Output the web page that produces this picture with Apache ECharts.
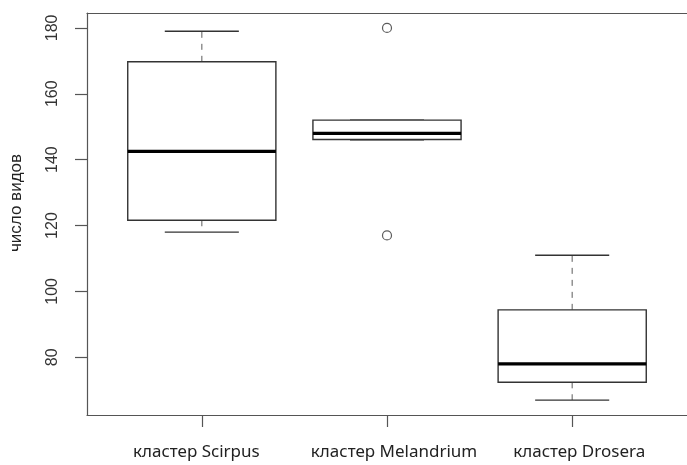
<!DOCTYPE html>
<html>
<head>
<meta charset="utf-8">
<script src="https://cdn.jsdelivr.net/npm/echarts@6/dist/echarts.min.js"></script>
<style>html,body{margin:0;padding:0;background:#fff;}#c{width:687px;height:465px;}</style>
</head>
<body>
<div id="c"></div>
<script>
var categories = ['кластер Scirpus', 'кластер Melandrium', 'кластер Drosera'];
var whiskerLow = [118, 146, 67];
var q1 = [121.6, 146.1, 72.4];
var median = [142.5, 148, 78];
var q3 = [169.7, 152, 94.4];
var whiskerHigh = [179, 152, 111];
var outliers = [[2, 180], [2, 117]];
var yTicks = [80, 100, 120, 140, 160, 180];
var xTicks = [1, 2, 3];

var boxData = categories.map(function (c, i) {
  return [i + 1, whiskerLow[i], q1[i], median[i], q3[i], whiskerHigh[i]];
});

var chart = echarts.init(document.getElementById('c'));
var lineCol = '#333';
var frameCol = '#555';
var labelFont = 'Noto Sans';
chart.setOption({
  animation: false,
  grid: { left: 86, top: 13, width: 606, bottom: 50, show: false },
  xAxis: [{
    type: 'value', min: 0.38, max: 3.62,
    splitLine: { show: false },
    axisLine: { show: true, lineStyle: { color: frameCol, width: 1.2 } },
    axisTick: { show: true, customValues: xTicks, length: 12, lineStyle: { color: frameCol, width: 1.2 } },
    axisLabel: {
      customValues: xTicks, margin: 29,
      formatter: function (v) { var i = Math.round(v) - 1; return '{s' + i + '|' + categories[i] + '}'; },
      rich: {
        s0: { fontFamily: labelFont, fontSize: 17, color: '#222', padding: [0, 11, 0, 0] },
        s1: { fontFamily: labelFont, fontSize: 17, color: '#222', padding: [0, 0, 0, 14] },
        s2: { fontFamily: labelFont, fontSize: 17, color: '#222', padding: [0, 0, 0, 14] }
      }
    }
  }, {
    type: 'value', position: 'top', min: 0.38, max: 3.62,
    splitLine: { show: false },
    axisLine: { show: true, lineStyle: { color: frameCol, width: 1.2 } },
    axisTick: { show: false }, axisLabel: { show: false }
  }],
  yAxis: {
    type: 'value', min: 62.48, max: 184.52,
    name: 'число видов', nameLocation: 'middle', nameRotate: 90, nameGap: 62,
    nameTextStyle: { fontFamily: 'Liberation Sans', fontSize: 17, color: '#222', padding: [0, 0, 0, 22] },
    splitLine: { show: false },
    axisLine: { show: true, lineStyle: { color: frameCol, width: 1.2 } },
    axisTick: { show: true, customValues: yTicks, length: 12, lineStyle: { color: frameCol, width: 1.2 } },
    axisLabel: {
      customValues: yTicks, rotate: 90, margin: 26,
      fontFamily: 'Liberation Sans', fontSize: 16, color: '#333'
    }
  },
  series: [
    {
      type: 'custom',
      data: boxData,
      encode: { x: 0, y: [1, 2, 3, 4, 5] },
      renderItem: function (params, api) {
        var x = api.value(0);
        var lo = api.value(1), a = api.value(2), m = api.value(3), b = api.value(4), hi = api.value(5);
        var tl = api.coord([x - 0.4, b]);
        var br = api.coord([x + 0.4, a]);
        var cL = api.coord([x - 0.2, lo]), cR = api.coord([x + 0.2, lo]);
        var hL = api.coord([x - 0.2, hi]), hR = api.coord([x + 0.2, hi]);
        var mid = api.coord([x, m]);
        var pA = api.coord([x, a]), pB = api.coord([x, b]);
        var pLo = api.coord([x, lo]), pHi = api.coord([x, hi]);
        var children = [];
        if (pHi[1] < pB[1] - 0.5) {
          children.push({ type: 'line', shape: { x1: pB[0], y1: pB[1], x2: pHi[0], y2: pHi[1] }, style: { stroke: '#777', lineWidth: 1.2, lineDash: [6, 6] } });
        }
        if (pLo[1] > pA[1] + 0.5) {
          children.push({ type: 'line', shape: { x1: pA[0], y1: pA[1], x2: pLo[0], y2: pLo[1] }, style: { stroke: '#777', lineWidth: 1.2, lineDash: [6, 6] } });
        }
        children.push({ type: 'line', shape: { x1: hL[0], y1: hL[1], x2: hR[0], y2: hR[1] }, style: { stroke: lineCol, lineWidth: 1.4 } });
        children.push({ type: 'line', shape: { x1: cL[0], y1: cL[1], x2: cR[0], y2: cR[1] }, style: { stroke: lineCol, lineWidth: 1.4 } });
        children.push({ type: 'rect', shape: { x: tl[0], y: tl[1], width: br[0] - tl[0], height: br[1] - tl[1] }, style: { fill: '#fff', stroke: lineCol, lineWidth: 1.4 } });
        children.push({ type: 'line', shape: { x1: tl[0], y1: mid[1], x2: br[0], y2: mid[1] }, style: { stroke: '#000', lineWidth: 3.2 } });
        return { type: 'group', children: children };
      }
    },
    {
      type: 'scatter',
      data: outliers,
      symbol: 'circle', symbolSize: 9,
      itemStyle: { color: '#fff', borderColor: '#333', borderWidth: 1.2 }
    }
  ]
});
</script>
</body>
</html>
